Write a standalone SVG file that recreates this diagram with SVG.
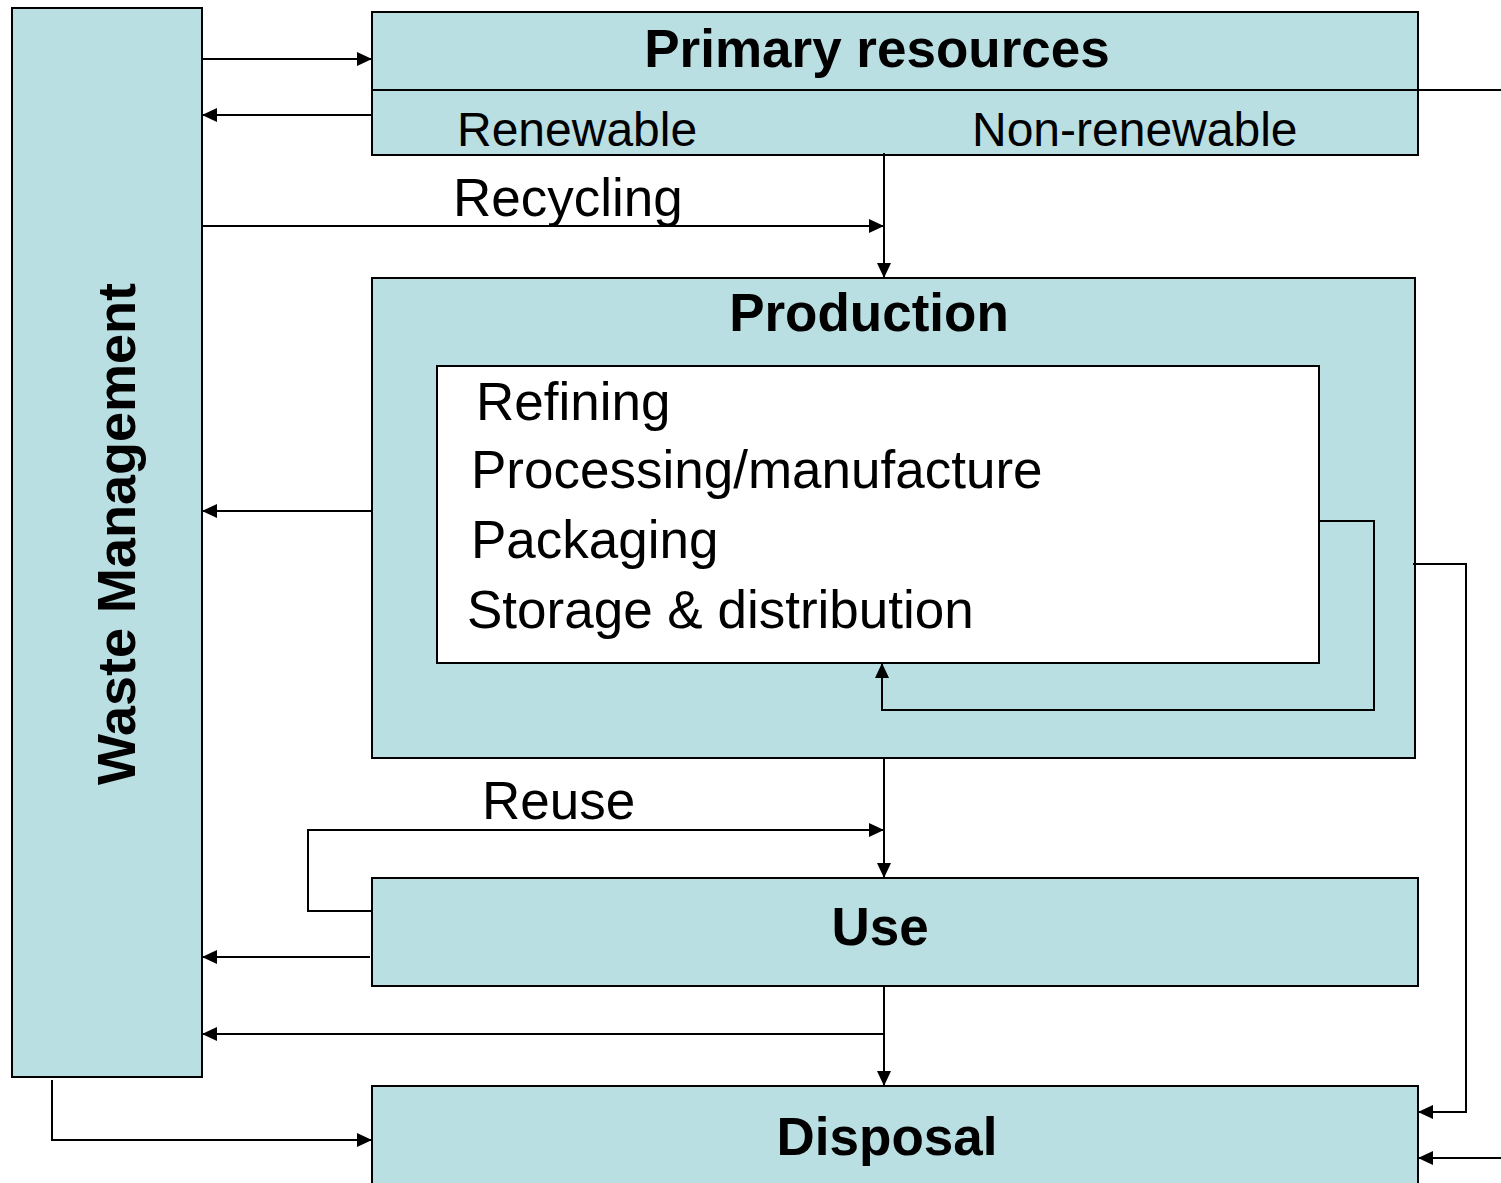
<svg xmlns="http://www.w3.org/2000/svg" width="1501" height="1183" viewBox="0 0 1501 1183">
  <style>
    .box { fill: #BADFE2; stroke: #000; stroke-width: 2; }
    .inner { fill: #fff; stroke: #000; stroke-width: 2; }
    .link { fill: none; stroke: #000; stroke-width: 2; }
    .arr { marker-end: url(#head); }
    .t { font-family: "Liberation Sans", Arial, sans-serif; fill: #000; }
    .title { font-size: 53px; font-weight: bold; text-anchor: middle; }
    .lbl { font-size: 48px; }
    .item { font-size: 53px; }
  </style>
  <defs>
    <marker id="head" markerUnits="userSpaceOnUse" markerWidth="16" markerHeight="14" refX="15" refY="7" orient="auto">
      <path d="M0,0 L15,7 L0,14 Z" fill="#000"/>
    </marker>
  </defs>

  <g id="waste-management">
    <rect class="box" x="12" y="8" width="190" height="1069"/>
    <text class="t title" style="font-size:54px" transform="translate(135,534) rotate(-90)">Waste Management</text>
  </g>

  <g id="primary-resources">
    <rect class="box" x="372" y="12" width="1046" height="143"/>
    <line class="link" x1="372" y1="90" x2="1501" y2="90"/>
    <text class="t title" x="877" y="67">Primary resources</text>
    <text class="t lbl" x="457" y="146">Renewable</text>
    <text class="t lbl" x="972" y="146">Non-renewable</text>
  </g>

  <g id="production">
    <rect class="box" x="372" y="278" width="1043" height="480"/>
    <text class="t title" x="869" y="331">Production</text>
    <rect class="inner" x="437" y="366" width="882" height="297"/>
    <text class="t item" x="476" y="420">Refining</text>
    <text class="t item" x="471" y="488">Processing/manufacture</text>
    <text class="t item" x="471" y="558">Packaging</text>
    <text class="t item" x="467" y="628">Storage &amp; distribution</text>
  </g>

  <g id="use">
    <rect class="box" x="372" y="878" width="1046" height="108"/>
    <text class="t title" x="880" y="945">Use</text>
  </g>

  <g id="disposal">
    <rect class="box" x="372" y="1086" width="1046" height="110"/>
    <text class="t title" x="887" y="1155">Disposal</text>
  </g>

  <g id="connectors">
    <!-- waste management <-> primary resources -->
    <path class="link arr" d="M203,59 H372"/>
    <path class="link arr" d="M372,115 H202"/>
    <!-- recycling back into production -->
    <path class="link arr" d="M202,226 H884"/>
    <text class="t item" x="453" y="216">Recycling</text>
    <path class="link arr" d="M884,153 V278"/>
    <!-- production waste -->
    <path class="link arr" d="M372,511 H202"/>
    <!-- internal loop within production -->
    <path class="link arr" d="M1319,521 H1374 V710 H882 V663"/>
    <!-- production straight to disposal -->
    <path class="link arr" d="M1413,564 H1466 V1112 H1418"/>
    <!-- production to use -->
    <path class="link arr" d="M884,758 V878"/>
    <!-- reuse loop -->
    <path class="link arr" d="M372,911 H308 V830 H884"/>
    <text class="t item" x="482" y="819">Reuse</text>
    <!-- use waste -->
    <path class="link arr" d="M370,957 H202"/>
    <!-- use to disposal -->
    <path class="link arr" d="M884,986 V1086"/>
    <path class="link arr" d="M884,1034 H202"/>
    <!-- waste management to disposal -->
    <path class="link arr" d="M52,1080 V1140 H372"/>
    <!-- external input to disposal -->
    <path class="link arr" d="M1501,1158 H1418"/>
  </g>
</svg>
